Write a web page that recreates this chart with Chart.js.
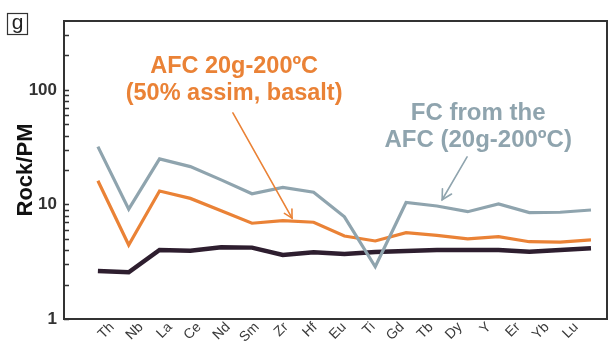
<!DOCTYPE html>
<html>
<head>
<meta charset="utf-8">
<script src="https://cdn.jsdelivr.net/npm/chart.js@4.4.1/dist/chart.umd.min.js"></script>
<style>
  html, body { margin: 0; padding: 0; background: #ffffff; }
  #wrap { width: 609px; height: 350px; }
</style>
</head>
<body>
<div id="wrap"><canvas id="c" width="609" height="350"></canvas></div>
<script>
// Primitive-mantle normalised trace elements
const elements = ['Th','Nb','La','Ce','Nd','Sm','Zr','Hf','Eu','Ti','Gd','Tb','Dy','Y','Er','Yb','Lu'];

// FC from the AFC (20g-200ºC)
const fcValues  = [32, 9.1, 25, 21.4, 16.4, 12.4, 14.1, 12.8, 7.8, 2.86, 10.4, 9.7, 8.65, 10.1, 8.5, 8.55, 8.95];
// AFC 20g-200ºC (50% assim, basalt)
const afcValues = [16.1, 4.43, 13.1, 11.3, 8.8, 6.86, 7.22, 7.0, 5.3, 4.8, 5.67, 5.38, 5.0, 5.24, 4.73, 4.7, 4.9];
// starting composition
const baseValues = [2.63, 2.56, 4.0, 3.95, 4.23, 4.2, 3.62, 3.82, 3.7, 3.85, 3.93, 4.0, 4.0, 4.0, 3.87, 4.0, 4.14];

const yTickLabels = [1, 10, 100];
const yMinorTicks = [2,3,4,5,6,7,8,9,20,30,40,50,60,70,80,90,200,300];

const ORANGE = '#EA8236';
const GREY = '#8FA4AE';
const DARK = '#2E1E2F';
const FRAME = '#333333';
const FONT = '"Liberation Sans", Arial, sans-serif';

function series(values) {
  return values.map((v, i) => ({ x: i, y: v }));
}

function arrow(ctx, x1, y1, x2, y2, color, head) {
  ctx.save();
  ctx.strokeStyle = color;
  ctx.lineWidth = 1.6;
  ctx.lineCap = 'round';
  ctx.beginPath();
  ctx.moveTo(x1, y1);
  ctx.lineTo(x2, y2);
  ctx.stroke();
  const a = Math.atan2(y2 - y1, x2 - x1);
  ctx.beginPath();
  ctx.moveTo(x2 - head * Math.cos(a - 0.5), y2 - head * Math.sin(a - 0.5));
  ctx.lineTo(x2, y2);
  ctx.lineTo(x2 - head * Math.cos(a + 0.5), y2 - head * Math.sin(a + 0.5));
  ctx.stroke();
  ctx.restore();
}

const decorations = {
  id: 'decorations',
  afterDraw(chart) {
    const { ctx, chartArea: ca } = chart;
    const xs = chart.scales.x, ys = chart.scales.y;
    const px = v => xs.getPixelForValue(v);
    const py = v => ys.getPixelForValue(v);

    ctx.save();
    // plot frame
    ctx.strokeStyle = FRAME;
    ctx.lineWidth = 2;
    ctx.strokeRect(ca.left, ca.top, ca.right - ca.left, ca.bottom - ca.top);

    // inward y ticks
    ctx.lineWidth = 1.5;
    ctx.beginPath();
    yTickLabels.concat(yMinorTicks).forEach(v => {
      const y = Math.round(py(v)) + 0.5;
      ctx.moveTo(ca.left, y);
      ctx.lineTo(ca.left + 5, y);
    });
    ctx.stroke();

    // panel letter
    ctx.lineWidth = 1.2;
    ctx.strokeStyle = '#333';
    ctx.strokeRect(7.5, 13.5, 20, 21);
    ctx.fillStyle = '#222';
    ctx.font = '21px ' + FONT;
    ctx.textAlign = 'center';
    ctx.textBaseline = 'alphabetic';
    ctx.fillText('g', 17.5, 29);

    // AFC label and arrow
    ctx.font = 'bold 23.5px ' + FONT;
    ctx.textBaseline = 'middle';
    ctx.fillStyle = ORANGE;
    ctx.fillText('AFC 20g-200ºC', px(4.42), py(159));
    ctx.fillText('(50% assim, basalt)', px(4.42), py(94));
    arrow(ctx, px(4.38), py(63), px(6.3), py(7.6), ORANGE, 9);

    // FC label and arrow
    ctx.font = 'bold 24px ' + FONT;
    ctx.fillStyle = GREY;
    ctx.fillText('FC from the', px(12.34), py(63));
    ctx.fillText('AFC (20g-200ºC)', px(12.34), py(36.6));
    arrow(ctx, px(11.98), py(26), px(11.17), py(11), GREY, 11);
    ctx.restore();
  }
};

new Chart(document.getElementById('c'), {
  type: 'line',
  data: {
    datasets: [
      { label: 'FC from the AFC (20g-200ºC)', data: series(fcValues), borderColor: GREY, borderWidth: 3.2 },
      { label: 'AFC 20g-200ºC (50% assim, basalt)', data: series(afcValues), borderColor: ORANGE, borderWidth: 3.2 },
      { label: 'Starting composition', data: series(baseValues), borderColor: DARK, borderWidth: 4.5 }
    ]
  },
  options: {
    responsive: false,
    animation: false,
    layout: { padding: { top: 21, right: 2, left: 0, bottom: 0 } },
    elements: { point: { radius: 0 }, line: { tension: 0, borderJoinStyle: 'miter', borderCapStyle: 'butt' } },
    plugins: { legend: { display: false }, tooltip: { enabled: false } },
    scales: {
      x: {
        type: 'linear', display: false, min: -1.1, max: 16.52
      },
      xl: {
        type: 'linear', position: 'bottom', min: -1.655, max: 17.07,
        afterBuildTicks: s => { s.ticks = elements.map((_, i) => ({ value: i })); },
        afterFit: s => { s.height = 31; },
        grid: { display: false, drawTicks: false },
        border: { display: false },
        ticks: {
          autoSkip: false, minRotation: 45, maxRotation: 45, padding: 0,
          color: '#3a3a3a', font: { family: FONT, size: 14 },
          callback: v => elements[v]
        }
      },
      y: {
        type: 'logarithmic', min: 1, max: 400,
        afterBuildTicks: s => { s.ticks = yTickLabels.map(v => ({ value: v })); },
        afterFit: s => { s.width = 64; },
        grid: { display: false, drawTicks: false },
        border: { display: false },
        ticks: {
          padding: 7, color: '#333', font: { family: FONT, size: 17, weight: 'bold' },
          callback: v => yTickLabels.includes(v) ? String(v) : ''
        },
        title: {
          display: true, text: 'Rock/PM', color: '#111',
          font: { family: FONT, size: 22, weight: 'bold' },
          padding: { top: 13, bottom: 0 }
        }
      }
    }
  },
  plugins: [decorations]
});
</script>
</body>
</html>
